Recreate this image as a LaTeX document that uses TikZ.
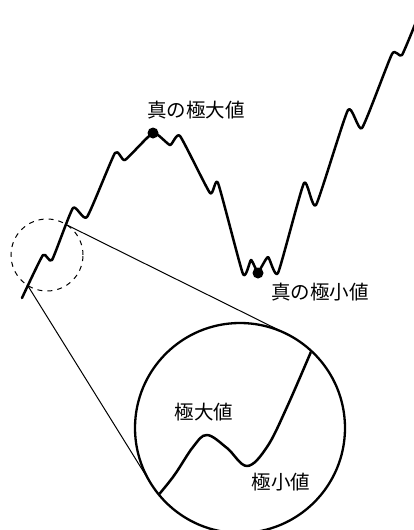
\documentclass[tikz,border=0pt]{standalone}
\usepackage{fontspec}
\newfontfamily\cjk{Noto Sans CJK JP}
\usetikzlibrary{calc}
\begin{document}
\begin{tikzpicture}[x=1pt,y=-1pt,
  curve/.style={line width=2.5pt,line join=round,line cap=round},
  thinline/.style={line width=1pt},
  lbl/.style={font=\cjk\fontsize{19.5}{22}\selectfont,inner sep=0pt},
  dot/.style={circle,fill=black,inner sep=0pt,minimum size=11pt}]
\useasboundingbox (0,0) rectangle (413,530);
% main curve
\draw[curve] plot[smooth,tension=0.3] coordinates {
 (22,298) (43,255) (52,260) (73,208) (87,217) (115,153) (125,160) (153,133)
 (170,145) (180,136) (210,193) (218,183) (243,274) (251,260) (258,272)
 (268,257) (278,273) (304,183) (316,205) (348,110) (362,128) (392,54)
 (402,55) (420,12)};
\node[dot] (maxdot) at (153,133) {};
\node[dot] (mindot) at (258,273) {};
\node[lbl] (maxlbl) at (196,110) {真の極大値};
\node[lbl] (minlbl) at (320,292) {真の極小値};
% dashed magnifier
\node[circle,draw,thinline,dash pattern=on 5pt off 5pt,minimum size=72pt,inner sep=0pt] (small) at (47,255) {};
\coordinate (p1) at (67,225);
\coordinate (p2) at (28,286);
% big circle
\node[circle,draw,line width=2.3pt,minimum size=210pt,inner sep=0pt,outer sep=0pt] (big) at (240,428) {};
\coordinate (t1) at (tangent cs:node=big,point={(p1)},solution=2);
\coordinate (t2) at (tangent cs:node=big,point={(p2)},solution=1);
\draw[thinline] (p1) -- (t1);
\draw[thinline] (p2) -- (t2);
\begin{scope}
\clip (240,428) circle (104pt);
\draw[curve] plot[smooth,tension=0.6] coordinates {
 (150,505) (173,477) (193,447) (207,435) (227,448) (247,466) (267,447) (287,407) (316,340)};
\end{scope}
\node[lbl] (zmax) at (204,412) {極大値};
\node[lbl] (zmin) at (281,482) {極小値};
\end{tikzpicture}
\end{document}
